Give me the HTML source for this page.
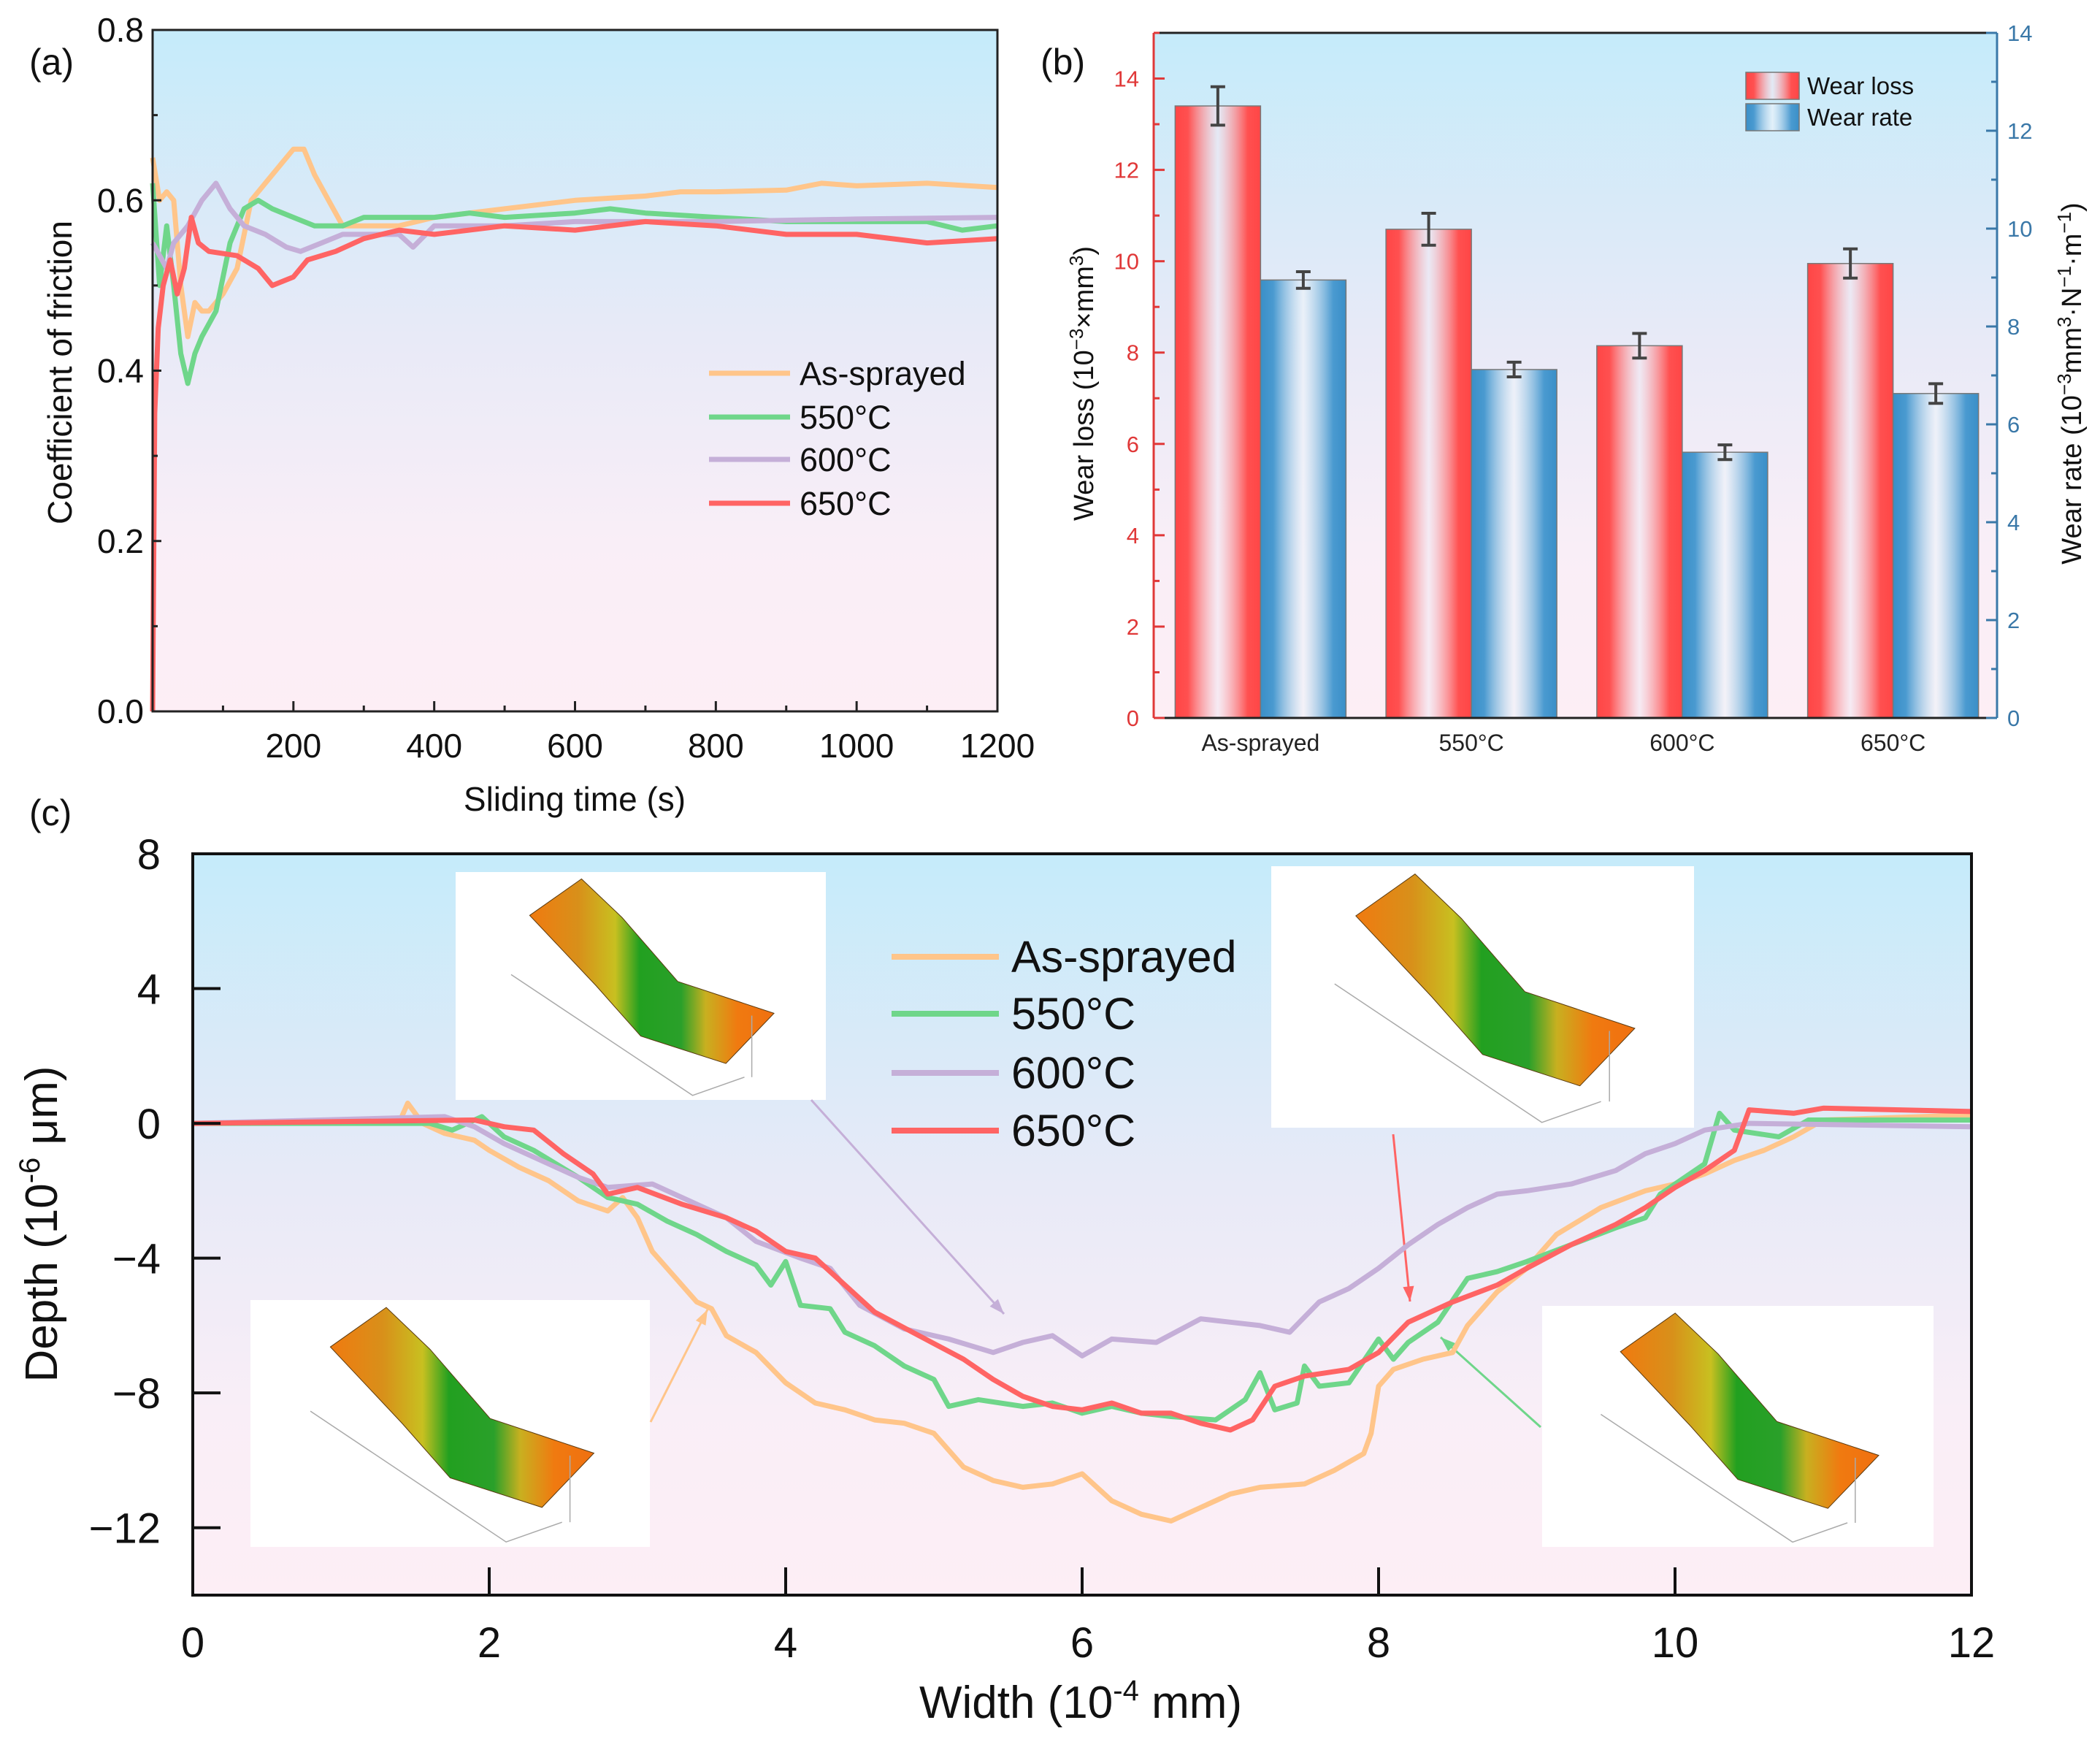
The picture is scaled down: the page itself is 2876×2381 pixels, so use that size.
<!DOCTYPE html>
<html><head><meta charset="utf-8">
<style>
html,body{margin:0;padding:0;background:#fff;}
svg{display:block;}
text{font-family:"Liberation Sans",Arial,sans-serif;}
</style></head>
<body>
<svg id="fig" width="2876" height="2381" viewBox="0 0 2876 2381" xmlns="http://www.w3.org/2000/svg">
<defs>
<linearGradient id="bg" x1="0" y1="0" x2="0" y2="1">
<stop offset="0" stop-color="#c5ebfa"/><stop offset="0.45" stop-color="#e8eaf7"/><stop offset="0.75" stop-color="#f9eef7"/><stop offset="1" stop-color="#fdeef5"/>
</linearGradient>
<linearGradient id="redbar" x1="0" y1="0" x2="1" y2="0">
<stop offset="0" stop-color="#ff4646"/><stop offset="0.15" stop-color="#ff5050"/><stop offset="0.5" stop-color="#f2e8f2" stop-opacity="0.6"/><stop offset="0.85" stop-color="#ff5050"/><stop offset="1" stop-color="#ff4646"/>
</linearGradient>
<linearGradient id="bluebar" x1="0" y1="0" x2="1" y2="0">
<stop offset="0" stop-color="#3a8fc8"/><stop offset="0.15" stop-color="#4a9ad0"/><stop offset="0.5" stop-color="#eef4fa" stop-opacity="0.6"/><stop offset="0.85" stop-color="#4a9ad0"/><stop offset="1" stop-color="#3a8fc8"/>
</linearGradient>
<linearGradient id="surf" x1="0" y1="0" x2="1" y2="0">
<stop offset="0" stop-color="#f07a10"/><stop offset="0.2" stop-color="#d8901a"/><stop offset="0.35" stop-color="#c8c020"/><stop offset="0.45" stop-color="#22a020"/><stop offset="0.62" stop-color="#2aa02a"/><stop offset="0.72" stop-color="#c8b020"/><stop offset="0.85" stop-color="#f07a10"/><stop offset="1" stop-color="#f07010"/>
</linearGradient>
</defs>
<g id="root"></g>
</svg>
<script>
// ---------- Panel (a) data ----------
const timeAs = [0,10,20,30,40,50,60,70,80,100,120,140,160,180,200,215,230,250,270,300,350,400,500,600,700,750,800,900,950,1000,1100,1200];
const cofAs = [0.65,0.6,0.61,0.6,0.5,0.44,0.48,0.47,0.47,0.49,0.52,0.6,0.62,0.64,0.66,0.66,0.63,0.6,0.57,0.57,0.57,0.58,0.59,0.6,0.605,0.61,0.61,0.612,0.62,0.617,0.62,0.615];
const time550 = [0,10,20,30,40,50,60,70,90,110,130,150,170,200,230,270,300,400,450,500,600,650,700,800,900,1000,1100,1150,1200];
const cof550 = [0.62,0.5,0.57,0.5,0.42,0.385,0.42,0.44,0.47,0.55,0.59,0.6,0.59,0.58,0.57,0.57,0.58,0.58,0.585,0.58,0.585,0.59,0.585,0.58,0.575,0.575,0.575,0.565,0.57];
const time600 = [0,20,30,50,70,90,110,130,160,190,210,240,270,300,350,370,400,500,600,800,1000,1200];
const cof600 = [0.55,0.52,0.55,0.57,0.6,0.62,0.59,0.57,0.56,0.545,0.54,0.55,0.56,0.56,0.56,0.545,0.57,0.57,0.575,0.575,0.578,0.58];
const time650 = [0,3,8,15,25,35,45,55,65,80,120,150,170,200,220,260,300,350,400,500,600,700,800,900,1000,1100,1200];
const cof650 = [0,0.35,0.45,0.5,0.53,0.49,0.52,0.58,0.55,0.54,0.535,0.52,0.5,0.51,0.53,0.54,0.555,0.565,0.56,0.57,0.565,0.575,0.57,0.56,0.56,0.55,0.555];
const aXTicks = [200,400,600,800,1000,1200];
const aYTicks = ["0.0","0.2","0.4","0.6","0.8"];
const aLegend = ["As-sprayed","550°C","600°C","650°C"];
// ---------- Panel (b) data ----------
const bCategories = ["As-sprayed","550°C","600°C","650°C"];
const wearLoss = [13.4,10.7,8.15,9.95];
const wearLossErr = [0.42,0.35,0.27,0.32];
const wearRate = [8.95,7.12,5.43,6.63];
const wearRateErr = [0.17,0.15,0.15,0.2];
const bLeftTicks = [0,2,4,6,8,10,12,14];
const bRightTicks = [0,2,4,6,8,10,12,14];
// ---------- Panel (c) data ----------
const wAs = [0,1.4,1.45,1.55,1.7,1.9,2.0,2.2,2.4,2.6,2.8,2.9,3.0,3.1,3.2,3.4,3.5,3.6,3.8,4.0,4.2,4.4,4.6,4.8,5.0,5.2,5.4,5.6,5.8,6.0,6.2,6.4,6.6,6.8,7.0,7.2,7.5,7.7,7.9,7.95,8.0,8.1,8.3,8.5,8.6,8.8,9.0,9.2,9.5,9.8,10.0,10.2,10.4,10.6,10.8,11.0,12];
const dAs = [0,0.1,0.6,0,-0.3,-0.5,-0.8,-1.3,-1.7,-2.3,-2.6,-2.2,-2.8,-3.8,-4.3,-5.3,-5.5,-6.3,-6.8,-7.7,-8.3,-8.5,-8.8,-8.9,-9.2,-10.2,-10.6,-10.8,-10.7,-10.4,-11.2,-11.6,-11.8,-11.4,-11.0,-10.8,-10.7,-10.3,-9.8,-9.2,-7.8,-7.3,-7.0,-6.8,-6.0,-5.0,-4.3,-3.3,-2.5,-2.0,-1.8,-1.5,-1.1,-0.8,-0.4,0.1,0.25];
const w550 = [0,1.6,1.75,1.95,2.1,2.3,2.6,2.8,3.0,3.2,3.4,3.6,3.8,3.9,4.0,4.1,4.3,4.4,4.6,4.8,5.0,5.1,5.3,5.6,5.8,6.0,6.2,6.4,6.6,6.9,7.1,7.2,7.3,7.45,7.5,7.6,7.8,8.0,8.1,8.2,8.4,8.6,8.8,9.0,9.3,9.6,9.8,9.9,10.2,10.3,10.4,10.7,10.9,12];
const d550 = [0,0,-0.2,0.2,-0.4,-0.8,-1.6,-2.2,-2.4,-2.9,-3.3,-3.8,-4.2,-4.8,-4.1,-5.4,-5.5,-6.2,-6.6,-7.2,-7.6,-8.4,-8.2,-8.4,-8.3,-8.6,-8.4,-8.6,-8.7,-8.8,-8.2,-7.4,-8.5,-8.3,-7.2,-7.8,-7.7,-6.4,-7.0,-6.5,-5.9,-4.6,-4.4,-4.1,-3.6,-3.1,-2.8,-2.1,-1.2,0.3,-0.2,-0.4,0.1,0.1];
const w600 = [0,1.7,1.9,2.1,2.4,2.6,2.8,3.1,3.3,3.6,3.8,4.1,4.3,4.5,4.8,5.1,5.4,5.6,5.8,6.0,6.2,6.5,6.8,7.0,7.2,7.4,7.6,7.8,8.0,8.2,8.4,8.6,8.8,9.0,9.3,9.6,9.8,10.0,10.2,10.5,12];
const d600 = [0,0.2,-0.1,-0.6,-1.2,-1.6,-1.9,-1.8,-2.2,-2.8,-3.5,-4.0,-4.3,-5.4,-6.1,-6.4,-6.8,-6.5,-6.3,-6.9,-6.4,-6.5,-5.8,-5.9,-6.0,-6.2,-5.3,-4.9,-4.3,-3.6,-3.0,-2.5,-2.1,-2.0,-1.8,-1.4,-0.9,-0.6,-0.2,0.0,-0.1];
const w650 = [0,1.9,2.1,2.3,2.5,2.7,2.8,3.0,3.3,3.6,3.8,4.0,4.2,4.4,4.6,4.9,5.2,5.4,5.6,5.8,6.0,6.2,6.4,6.6,6.8,7.0,7.15,7.3,7.5,7.8,8.0,8.2,8.5,8.8,9.0,9.3,9.6,9.8,10.0,10.2,10.4,10.5,10.8,11.0,12];
const d650 = [0,0.1,-0.1,-0.2,-0.9,-1.5,-2.1,-1.9,-2.4,-2.8,-3.2,-3.8,-4.0,-4.8,-5.6,-6.3,-7.0,-7.6,-8.1,-8.4,-8.5,-8.3,-8.6,-8.6,-8.9,-9.1,-8.8,-7.8,-7.5,-7.3,-6.8,-5.9,-5.3,-4.8,-4.3,-3.6,-3.0,-2.5,-1.9,-1.4,-0.8,0.4,0.3,0.45,0.35];
const cXTicks = [0,2,4,6,8,10,12];
const cYTicks = [8,4,0,-4,-8,-12];
const cLegend = ["As-sprayed","550°C","600°C","650°C"];

const NS = "http://www.w3.org/2000/svg";
const root = document.getElementById("root");
const COL = ["#ffc58a","#6fd68a","#c5afd8","#ff6464"];
function mk(tag, attrs, parent, txt){
  const e = document.createElementNS(NS, tag);
  for (const k in attrs) e.setAttribute(k, attrs[k]);
  if (txt !== undefined) e.textContent = txt;
  (parent||root).appendChild(e);
  return e;
}
function grp(name){ const g = mk("g",{});   return g; }
function path(xs, ys, fx, fy){ return xs.map((v,i)=>(i?"L":"M")+fx(v).toFixed(1)+","+fy(ys[i]).toFixed(1)).join(""); }

// ================= Panel A =================
(function(){
  const L=209,R=1366,T=41,B=974;
  const fx=v=>L+(v/1200)*(R-L), fy=v=>B-(v/0.8)*(B-T);
  const g = grp('panel-a');
  const bg=mk("rect",{x:L,y:T,width:R-L,height:B-T,fill:"url(#bg)"},g);
   
  const series=[[timeAs,cofAs],[time550,cof550],[time600,cof600],[time650,cof650]];
  series.forEach((s,i)=>{
    const p=mk("path",{d:path(s[0],s[1],fx,fy),fill:"none",stroke:COL[i],"stroke-width":7,"stroke-linejoin":"round"},g);
     
  });
  mk("rect",{x:L,y:T,width:R-L,height:B-T,fill:"none",stroke:"#222","stroke-width":3},g);
  aXTicks.forEach(v=>{ mk("line",{x1:fx(v),x2:fx(v),y1:B,y2:B-14,stroke:"#222","stroke-width":3},g);
    mk("line",{x1:fx(v-100),x2:fx(v-100),y1:B,y2:B-8,stroke:"#222","stroke-width":3},g);
    const t=mk("text",{x:fx(v),y:B+63,"font-size":46,"text-anchor":"middle",fill:"#111"},g,v);
     });
  aYTicks.forEach(s=>{ const v=parseFloat(s); mk("line",{x1:L,x2:L+12,y1:fy(v),y2:fy(v),stroke:"#222","stroke-width":3},g);
    if(v<0.8) mk("line",{x1:L,x2:L+7,y1:fy(v+0.1),y2:fy(v+0.1),stroke:"#222","stroke-width":3},g);
    const t=mk("text",{x:L-12,y:fy(v)+16,"font-size":46,"text-anchor":"end",fill:"#111"},g,s);
     });
  let t=mk("text",{x:787,y:1110,"font-size":46,"text-anchor":"middle",fill:"#111"},g,"Sliding time (s)");
   
  t=mk("text",{x:0,y:0,"font-size":46,"text-anchor":"middle",fill:"#111",transform:"translate(98,510) rotate(-90)"},g,"Coefficient of friction");
   
  t=mk("text",{x:40,y:102,"font-size":50,fill:"#111"},g,"(a)");
   
  const ly=[511,571,629,689];
  aLegend.forEach((s,i)=>{
    const lg=mk("g",{},g);  
    mk("line",{x1:971,x2:1082,y1:ly[i],y2:ly[i],stroke:COL[i],"stroke-width":7},lg);
    mk("text",{x:1095,y:ly[i]+16,"font-size":45,fill:"#111"},lg,s);
  });
})();

// ================= Panel B =================
(function(){
  const L=1580,R=2735,T=45,B=983;
  const fyL=v=>B-(v/15)*(B-T), fyR=v=>B-(v/14)*(B-T);
  const band=(R-L)/bCategories.length, bw=117;
  const g=grp('panel-b');
  const bg=mk("rect",{x:L,y:T,width:R-L,height:B-T,fill:"url(#bg)"},g);
   
  bCategories.forEach((c,i)=>{
    const cx=L+band*(i+0.5)+2;
    const r=mk("rect",{x:cx-bw,y:fyL(wearLoss[i]),width:bw,height:B-fyL(wearLoss[i]),fill:"url(#redbar)",stroke:"#777","stroke-width":1.5},g);
     
    const b=mk("rect",{x:cx,y:fyR(wearRate[i]),width:bw,height:B-fyR(wearRate[i]),fill:"url(#bluebar)",stroke:"#777","stroke-width":1.5},g);
     
    const eb=(x,y1,y2)=>{ mk("line",{x1:x,x2:x,y1:y1,y2:y2,stroke:"#444","stroke-width":4},g);
      mk("line",{x1:x-10,x2:x+10,y1:y1,y2:y1,stroke:"#444","stroke-width":4},g);
      mk("line",{x1:x-10,x2:x+10,y1:y2,y2:y2,stroke:"#444","stroke-width":4},g);};
    eb(cx-bw/2,fyL(wearLoss[i]+wearLossErr[i]),fyL(wearLoss[i]-wearLossErr[i]));
    eb(cx+bw/2,fyR(wearRate[i]+wearRateErr[i]),fyR(wearRate[i]-wearRateErr[i]));
    const t=mk("text",{x:cx,y:B+45,"font-size":32,"text-anchor":"middle",fill:"#222"},g,c);
     
  });
  mk("line",{x1:L,x2:R,y1:T,y2:T,stroke:"#222","stroke-width":3},g);
  mk("line",{x1:L,x2:R,y1:B,y2:B,stroke:"#222","stroke-width":3},g);
  mk("line",{x1:L,x2:L,y1:T,y2:B,stroke:"#e03838","stroke-width":3},g);
  mk("line",{x1:R,x2:R,y1:T,y2:B,stroke:"#3a78a8","stroke-width":3},g);
  bLeftTicks.forEach(v=>{ mk("line",{x1:L,x2:L+15,y1:fyL(v),y2:fyL(v),stroke:"#e03838","stroke-width":3},g);
    mk("line",{x1:L,x2:L+8,y1:fyL(v+1),y2:fyL(v+1),stroke:"#e03838","stroke-width":3},g);
    const t=mk("text",{x:L-20,y:fyL(v)+11,"font-size":31,"text-anchor":"end",fill:"#e03838"},g,v);
     });
  bRightTicks.forEach(v=>{ mk("line",{x1:R,x2:R-15,y1:fyR(v),y2:fyR(v),stroke:"#3a78a8","stroke-width":3},g);
    if(v<14) mk("line",{x1:R,x2:R-8,y1:fyR(v+1),y2:fyR(v+1),stroke:"#3a78a8","stroke-width":3},g);
    const t=mk("text",{x:R+14,y:fyR(v)+11,"font-size":31,fill:"#3a78a8"},g,v);
     });
  let t=mk("text",{x:1425,y:102,"font-size":50,fill:"#111"},g,"(b)");
   
  t=mk("text",{x:0,y:0,"font-size":38,"text-anchor":"middle",fill:"#111",transform:"translate(1497,525) rotate(-90)"},g);
  t.innerHTML='Wear loss (10<tspan dy="-14" font-size="26">−3</tspan><tspan dy="14">×mm</tspan><tspan dy="-14" font-size="26">3</tspan><tspan dy="14">)</tspan>';
   
  t=mk("text",{x:0,y:0,"font-size":38,"text-anchor":"middle",fill:"#111",transform:"translate(2850,525) rotate(-90)"},g);
  t.innerHTML='Wear rate (10<tspan dy="-14" font-size="26">−3</tspan><tspan dy="14">mm</tspan><tspan dy="-14" font-size="26">3</tspan><tspan dy="14">·N</tspan><tspan dy="-14" font-size="26">−1</tspan><tspan dy="14">·m</tspan><tspan dy="-14" font-size="26">−1</tspan><tspan dy="14">)</tspan>';
   
  const lg1=mk("g",{},g);  
  mk("rect",{x:2391,y:99,width:73,height:37,fill:"url(#redbar)",stroke:"#777","stroke-width":1.5},lg1);
  mk("text",{x:2475,y:129,"font-size":33,fill:"#111"},lg1,"Wear loss");
  const lg2=mk("g",{},g);  
  mk("rect",{x:2391,y:142,width:73,height:37,fill:"url(#bluebar)",stroke:"#777","stroke-width":1.5},lg2);
  mk("text",{x:2475,y:172,"font-size":33,fill:"#111"},lg2,"Wear rate");
})();

// ================= Panel C =================
(function(){
  const L=264,R=2700,T=1169,B=2184;
  const fx=v=>L+(v/12)*(R-L), fy=v=>B-((v+14)/22)*(B-T);
  const g=grp('panel-c');
  const bg=mk("rect",{x:L,y:T,width:R-L,height:B-T,fill:"url(#bg)"},g);
   
  function inset(name,x,y,w,h){
    const ig=mk("g",{},g);  
    mk("rect",{x:x,y:y,width:w,height:h,fill:"#fff"},ig);
    const P=(a,b)=>(x+a*w).toFixed(1)+","+(y+b*h).toFixed(1);
    mk("polygon",{points:[P(0.2,0.19),P(0.34,0.03),P(0.45,0.2),P(0.6,0.48),P(0.86,0.62),P(0.73,0.84),P(0.5,0.72),P(0.38,0.5)].join(" "),fill:"url(#surf)",stroke:"#5a3a10","stroke-width":1},ig);
    mk("polyline",{points:[P(0.15,0.45),P(0.64,0.98),P(0.78,0.9)].join(" "),fill:"none",stroke:"#aaa","stroke-width":1.5},ig);
    mk("line",{x1:x+0.8*w,x2:x+0.8*w,y1:y+0.63*h,y2:y+0.9*h,stroke:"#aaa","stroke-width":1.5},ig);
  }
  inset('inset-as-sprayed',343,1780,547,338);
  inset('inset-600',624,1194,507,312);
  inset('inset-650',1741,1186,579,358);
  inset('inset-550',2112,1788,536,330);
  function arrow(name,x1,y1,x2,y2,c){
    const ag=mk("g",{},g);  
    mk("line",{x1:x1,y1:y1,x2:x2,y2:y2,stroke:c,"stroke-width":3},ag);
    const a=Math.atan2(y2-y1,x2-x1),s=22;
    const p=[[x2,y2],[x2-s*Math.cos(a-0.35),y2-s*Math.sin(a-0.35)],[x2-s*Math.cos(a+0.35),y2-s*Math.sin(a+0.35)]];
    mk("polygon",{points:p.map(q=>q.join(",")).join(" "),fill:c},ag);
  }
  arrow('arrow-600',1111,1506,1375,1799,"#c5afd8");
  arrow('arrow-as-sprayed',891,1947,969,1793,"#ffc58a");
  arrow('arrow-650',1908,1553,1931,1782,"#ff6464");
  arrow('arrow-550',2110,1954,1973,1831,"#6fd68a");
  const series=[[wAs,dAs],[w550,d550],[w600,d600],[w650,d650]];
  series.forEach((s,i)=>{
    const p=mk("path",{d:path(s[0],s[1],fx,fy),fill:"none",stroke:COL[i],"stroke-width":7,"stroke-linejoin":"round"},g);
     
  });
  mk("rect",{x:L,y:T,width:R-L,height:B-T,fill:"none",stroke:"#111","stroke-width":4},g);
  cXTicks.forEach(v=>{ mk("line",{x1:fx(v),x2:fx(v),y1:B,y2:B-38,stroke:"#111","stroke-width":4},g);
    const t=mk("text",{x:fx(v),y:B+85,"font-size":58,"text-anchor":"middle",fill:"#111"},g,v);
     });
  cYTicks.forEach(v=>{ mk("line",{x1:L,x2:L+38,y1:fy(v),y2:fy(v),stroke:"#111","stroke-width":4},g);
    const t=mk("text",{x:L-44,y:fy(v)+21,"font-size":58,"text-anchor":"end",fill:"#111"},g,v<0?"−"+(-v):v);
     });
  let t=mk("text",{x:1480,y:2352,"font-size":62,"text-anchor":"middle",fill:"#111"},g);
  t.innerHTML='Width (10<tspan dy="-24" font-size="40">-4</tspan><tspan dy="24"> mm)</tspan>';
   
  t=mk("text",{x:0,y:0,"font-size":62,"text-anchor":"middle",fill:"#111",transform:"translate(78,1676) rotate(-90)"},g);
  t.innerHTML='Depth (10<tspan dy="-24" font-size="40">-6</tspan><tspan dy="24"> μm)</tspan>';
   
  t=mk("text",{x:40,y:1130,"font-size":50,fill:"#111"},g,"(c)");
   
  const ly=[1310,1388,1469,1548];
  cLegend.forEach((s,i)=>{
    const lg=mk("g",{},g);  
    mk("line",{x1:1221,x2:1368,y1:ly[i],y2:ly[i],stroke:COL[i],"stroke-width":8},lg);
    mk("text",{x:1385,y:ly[i]+21,"font-size":61,fill:"#111"},lg,s);
  });
})();
</script>
</body></html>
